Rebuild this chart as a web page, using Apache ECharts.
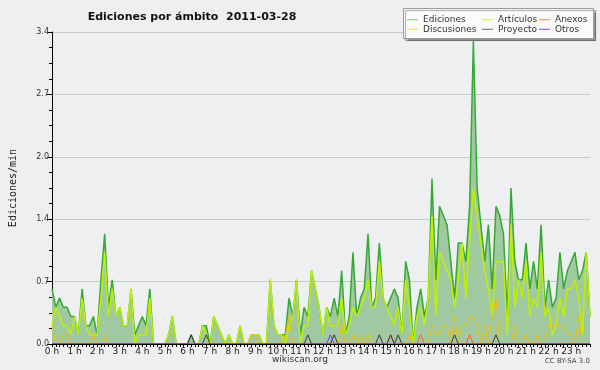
<!DOCTYPE html>
<html><head><meta charset="utf-8">
<script src="https://cdn.jsdelivr.net/npm/echarts@6/dist/echarts.min.js"></script>
<style>html,body{margin:0;padding:0;background:#eeeff1}#c{width:600px;height:370px}</style>
</head><body><div id="c"></div>
<script>
// 10-minute slots, 0:00 .. 23:50
const slots = [];
for (let h = 0; h < 24; h++) for (let m = 0; m < 60; m += 10) slots.push(h + ':' + (m < 10 ? '0' : '') + m);

const yTicks = ['0.0','0.7','1.4','2.0','2.7','3.4'];

const ediciones = [
0.6,0.4,0.5,0.4,0.4,0.3,0.3,0.1,0.6,0.2,0.2,0.3,0.1,0.7,1.2,0.4,0.7,0.3,0.4,0.2,0.2,0.6,0.1,0.2,
0.3,0.2,0.6,0,0,0,0,0.1,0.3,0,0,0,0,0.1,0,0,0.2,0.2,0,0.3,0.2,0.1,0,0.1,
0,0,0.2,0,0,0.1,0.1,0.1,0,0,0.7,0.2,0.1,0.1,0.1,0.5,0.3,0.7,0.1,0.4,0.3,0.8,0.6,0.4,
0.1,0.4,0.3,0.5,0.3,0.8,0.1,0.3,1.0,0.3,0.5,0.6,1.2,0.4,0.5,1.1,0.5,0.4,0.5,0.6,0.5,0.1,0.9,0.7,
0,0.4,0.6,0.3,0.5,1.8,0.7,1.5,1.4,1.3,0.9,0.5,1.1,1.1,0.9,1.5,3.3,1.7,1.3,0.9,1.3,0.6,1.5,1.4,
1.2,0.3,1.7,0.9,0.7,0.7,1.1,0.6,0.9,0.6,1.3,0.4,0.7,0.4,0.5,1.0,0.6,0.8,0.9,1.0,0.7,0.8,1.0,0.3];

const articulos = [
0.2,0.4,0.3,0.2,0.2,0.1,0.3,0.1,0.5,0.2,0.1,0.1,0.1,0.5,1.0,0.3,0.6,0.3,0.4,0.2,0.2,0.6,0,0.1,
0.1,0.1,0.5,0,0,0,0,0.1,0.3,0,0,0,0,0,0,0,0.2,0.1,0,0.3,0.2,0.1,0,0.1,
0,0,0.2,0,0,0.1,0.1,0.1,0,0,0.7,0.2,0.1,0.1,0,0.2,0.3,0.7,0,0.2,0.2,0.8,0.6,0.4,
0.1,0.4,0.2,0.2,0.2,0.5,0.1,0.2,0.4,0.3,0.4,0.5,0.7,0.4,0.4,0.9,0.5,0.4,0.3,0.2,0.4,0.1,0.7,0.4,
0,0.3,0.4,0.2,0.5,1.4,0.3,1.0,0.9,0.8,0.7,0.4,0.7,1.1,0.5,1.1,1.7,1.4,1.1,0.8,0.6,0.3,0.9,0.9,
0.9,0.1,1.3,0.4,0.7,0.5,0.9,0.3,0.5,0.4,1.0,0.3,0.4,0.1,0.2,0.5,0.3,0.6,0.6,0.7,0.5,0.1,1.0,0.3];

const discusiones = [
0.2,0,0,0.1,0.1,0,0,0,0,0,0,0.1,0,0,0.1,0,0,0,0,0,0,0,0,0,
0,0,0,0,0,0,0,0,0,0,0,0,0,0,0,0,0,0,0,0,0,0,0,0,
0,0,0,0,0,0.1,0.1,0,0,0,0,0,0,0,0.1,0.3,0,0,0,0,0,0,0,0,
0,0,0,0,0,0.2,0,0,0.1,0,0.1,0,0.1,0,0,0,0,0,0,0,0,0,0,0.1,
0,0,0,0,0,0.2,0.1,0.1,0.2,0.2,0,0.3,0,0.2,0.2,0.3,0.3,0.2,0,0.2,0,0.3,0.5,0,
0,0,0,0.2,0,0,0.1,0,0,0.1,0,0,0.2,0.2,0.2,0.2,0.2,0.1,0.1,0,0.3,0,0,0];

const anexos = new Array(144).fill(0);
[90, 98, 111].forEach(i => anexos[i] = 0.1);
const proyecto = new Array(144).fill(0);
[37, 41, 68, 75, 87, 90, 92, 107, 118].forEach(i => proyecto[i] = 0.1);
const otros = new Array(144).fill(0);
[74].forEach(i => otros[i] = 0.1);

const names = ['Ediciones','Artículos','Discusiones','Anexos','Proyecto','Otros'];
const colors = ['#35a835','#bff000','#f2bd00','#ff5a1e','#3a3a3a','#8a2cff'];
const legendColors = ['#77cc77','#ccf040','#ffd040','#ff8040','#666666','#9a40ff'];
const values = [ediciones, articulos, discusiones, anexos, proyecto, otros];

const chart = echarts.init(document.getElementById('c'), null, {renderer: 'canvas'});
const FONT = 'DejaVu Sans';

const series = values.map((d, k) => ({
  name: names[k], type: 'line', data: d, symbol: 'none', smooth: false,
  lineStyle: {color: colors[k], width: k < 2 ? 1.5 : 1},
  itemStyle: {color: legendColors[k]},
  areaStyle: k === 0 ? {color: '#a1c9a1', opacity: 1} : undefined,
  z: 2 + k, animation: false
}));

function legendCol(left, items) {
  return {
    orient: 'vertical', left: left, top: 15, itemGap: 0, itemWidth: 11, itemHeight: 1,
    icon: 'rect', padding: 0, data: items, selectedMode: false, z: 20,
    textStyle: {fontFamily: FONT, fontSize: 9, color: '#333', lineHeight: 9.5, padding: [0,0,0,0]}
  };
}

chart.setOption({
  animation: false,
  backgroundColor: '#eeeff1',
  title: {
    text: 'Ediciones por ámbito  2011-03-28', left: 187, top: 7, textAlign: 'center',
    textStyle: {fontFamily: FONT, fontSize: 11, fontWeight: 'bold', color: '#111'}
  },
  grid: {left: 46.5, right: 10, top: 32, bottom: 26, containLabel: false},
  legend: [legendCol(407, ['Ediciones','Discusiones']), legendCol(482, ['Artículos','Proyecto']), legendCol(539, ['Anexos','Otros'])],
  xAxis: {
    type: 'category', data: slots, boundaryGap: false, z: 10,
    axisLine: {lineStyle: {color: '#000', width: 1}},
    axisTick: {interval: 0, length: 3, lineStyle: {color: '#000'}},
    axisLabel: {
      interval: (i) => i % 6 === 0, margin: 3,
      formatter: (v) => v.split(':')[0] + ' h',
      fontFamily: FONT, fontSize: 9, color: '#222'
    },
    splitLine: {show: false}
  },
  yAxis: {
    type: 'value', min: 0, max: 3.4, interval: 0.68,
    name: 'Ediciones/min', nameLocation: 'middle', nameGap: 34, nameRotate: 90,
    nameTextStyle: {fontFamily: 'DejaVu Sans Mono', fontSize: 10, color: '#222'},
    axisLine: {show: true, lineStyle: {color: '#000'}},
    axisTick: {show: true, length: 5, lineStyle: {color: '#000'}},
    minorTick: {show: true, splitNumber: 4, length: 3, lineStyle: {color: '#000'}},
    axisLabel: {
      formatter: (v) => yTicks[Math.round(v / 0.68)], margin: 3,
      fontFamily: FONT, fontSize: 8, color: '#333'
    },
    splitLine: {lineStyle: {color: '#c8c8c8', width: 1}}
  },
  graphic: [
    {type: 'rect', left: 403, top: 8, z: 15, shape: {width: 190, height: 30},
     style: {fill: '#fbfbfb', stroke: '#9a9a9a', lineWidth: 1, shadowColor: 'rgba(0,0,0,0.35)', shadowOffsetX: 2, shadowOffsetY: 2, shadowBlur: 1}},
    {type: 'text', left: 'center', top: 355, z: 15,
     style: {text: 'wikiscan.org', fontFamily: FONT, fontSize: 9, fill: '#333'}},
    {type: 'text', right: 10, top: 358, z: 15,
     style: {text: 'CC BY-SA 3.0', fontFamily: FONT, fontSize: 7, fill: '#444'}}
  ],
  series: series
});
</script></body></html>
